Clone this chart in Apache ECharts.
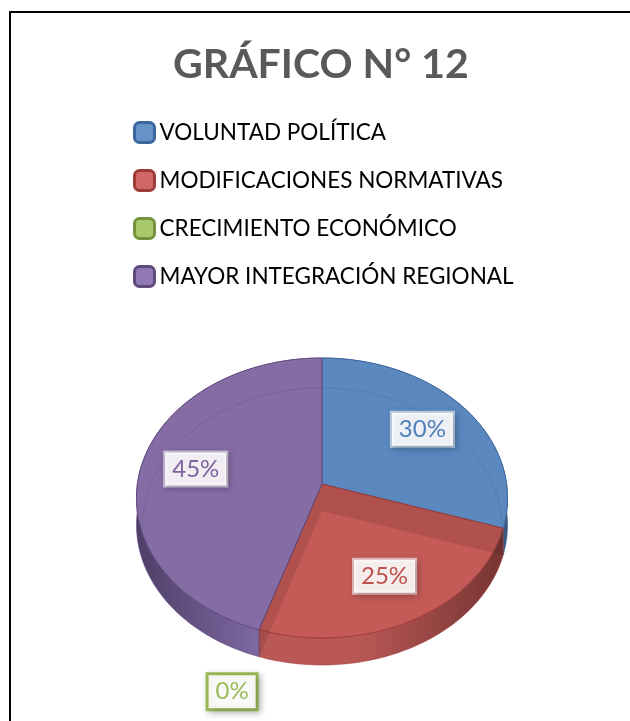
<!DOCTYPE html>
<html>
<head>
<meta charset="utf-8">
<script src="https://cdn.jsdelivr.net/npm/echarts@6/dist/echarts.min.js"></script>
<style>
  html, body { margin: 0; padding: 0; background: #fff; }
  #main { width: 630px; height: 721px; }
</style>
</head>
<body>
<div id="main"></div>
<script>
var categories = ['VOLUNTAD POLÍTICA', 'MODIFICACIONES NORMATIVAS', 'CRECIMIENTO ECONÓMICO', 'MAYOR INTEGRACIÓN REGIONAL'];
var values = [30, 25, 0, 45];
var valueLabels = ['30%', '25%', '0%', '45%'];

// top face / label text / legend border / legend fill / side dark / side mid
var topColors = ['#5a88bf', '#c55b57', '#9bbb59', '#866ca5'];
var textColors = ['#4f7fbd', '#c0504d', '#9bbb59', '#8064a2'];
var edgeColors = ['#3c679c', '#9e3b38', '#76923c', '#5f4a7e'];
var iconColors = ['#6592c9', '#d06966', '#a9c96d', '#9179b3'];
var sideDark = ['#2f4f78', '#6e2927', '#5a7030', '#45345f'];
var sideMid = ['#4f79ab', '#b54f4c', '#8aa94d', '#7a63a0'];

// pie geometry (slight perspective, like the excel 3d pie)
var CX = 322, CY = 484, RX = 184.6, RY = 138.6, PERSP = 0.1, DEPTH = 27;

var total = values.reduce(function (a, b) { return a + b; }, 0);

function pt(theta, r) {
  var u = Math.sin(theta) * r, v = -Math.cos(theta) * r;
  var s = 1 / (1 - PERSP * v);
  return [CX + RX * u * s, CY + RY * v * s];
}
function arc(t0, t1, r) {
  var pts = [], n = Math.max(2, Math.ceil((t1 - t0) / (Math.PI / 180)));
  for (var k = 0; k <= n; k++) {
    pts.push(pt(t0 + (t1 - t0) * k / n, r));
  }
  return pts;
}

function drawSlice(i, val) {
  var before = 0;
  for (var j = 0; j < i; j++) before += values[j];
  var t0 = before / total * Math.PI * 2;
  var t1 = t0 + val / total * Math.PI * 2;
  var children = [];

  if (val > 0) {
    var rim = arc(t0, t1, 1);
    var side = rim.concat(rim.slice().reverse().map(function (p) { return [p[0], p[1] + DEPTH]; }));
    children.push({
      type: 'polygon', z2: 1,
      shape: { points: side },
      style: {
        fill: new echarts.graphic.LinearGradient(CX - RX, 0, CX + RX, 0, [
          { offset: 0, color: sideDark[i] },
          { offset: 0.35, color: sideMid[i] },
          { offset: 0.6, color: sideMid[i] },
          { offset: 1, color: sideDark[i] }
        ], true),
        stroke: edgeColors[i], lineWidth: 0.6, opacity: 0.95
      }
    });
    children.push({
      type: 'polygon', z2: 5,
      shape: { points: [[CX, CY]].concat(rim) },
      style: { fill: topColors[i], stroke: edgeColors[i], lineWidth: 1 }
    });

    // inner walls seen through the top (only those that fall inside the slice)
    var walls = [];
    if (t0 > 0 && t0 < Math.PI) walls.push(t0);
    if (t1 > Math.PI && t1 < Math.PI * 2) walls.push(t1);
    walls.forEach(function (t) {
      var p = pt(t, 1);
      children.push({
        type: 'polygon', z2: 6,
        shape: { points: [[CX, CY], p, [p[0], p[1] + DEPTH], [CX, CY + DEPTH]] },
        style: { fill: 'rgba(0,0,0,0.1)' }
      });
    });

    // bottom edge of the back half, faint
    var b0 = t0, b1 = Math.min(t1, 100 * Math.PI / 180);
    var backs = [];
    if (b1 > b0) backs.push([b0, b1]);
    b0 = Math.max(t0, 260 * Math.PI / 180); b1 = t1;
    if (b1 > b0) backs.push([b0, b1]);
    backs.forEach(function (rg) {
      children.push({
        type: 'polyline', z2: 7,
        shape: { points: arc(rg[0], rg[1], 1).map(function (p) { return [CX + (p[0] - CX) * 0.97, p[1] + 30]; }) },
        style: { stroke: edgeColors[i], lineWidth: 1, opacity: 0.35, fill: null }
      });
    });
  }

  var lp = pt((t0 + t1) / 2, val > 0 ? 0.7 : 1.37);
  children.push({
    type: 'text', z2: 20,
    x: lp[0], y: lp[1],
    style: {
      text: valueLabels[i],
      font: '24px Lato',
      fill: textColors[i],
      align: 'center', verticalAlign: 'middle',
      backgroundColor: 'rgba(255,255,255,0.9)',
      borderColor: val > 0 ? 'rgba(255,255,255,0.6)' : textColors[i],
      borderWidth: val > 0 ? 2 : 3,
      padding: [5, 7, 4, 7],
      shadowColor: 'rgba(0,0,0,0.25)',
      shadowBlur: 6, shadowOffsetX: 2, shadowOffsetY: 2
    }
  });

  return { type: 'group', children: children };
}

var series = categories.map(function (name, i) {
  return {
    type: 'custom',
    name: name,
    coordinateSystem: 'none',
    silent: true,
    itemStyle: { color: topColors[i] },
    data: [values[i]],
    renderItem: function (params, api) {
      return drawSlice(i, api.value(0));
    }
  };
});

var chart = echarts.init(document.getElementById('main'));
chart.setOption({
  animation: false,
  title: {
    text: 'GRÁFICO N° 12',
    left: 168, top: 39,
    textStyle: { fontFamily: 'Lato', fontWeight: 'bold', fontSize: 41, color: '#595959' }
  },
  legend: {
    orient: 'vertical',
    left: 128, top: 116,
    itemWidth: 20, itemHeight: 20, itemGap: 25,
    selectedMode: false,
    textStyle: { fontFamily: 'Lato', fontSize: 22.5, color: '#000' },
    data: categories.map(function (name, i) {
      return {
        name: name, icon: 'roundRect',
        itemStyle: { color: iconColors[i], borderColor: edgeColors[i], borderWidth: 3 }
      };
    })
  },
  graphic: [{
    type: 'rect', z: -1,
    shape: { x: 10, y: 12, width: 700, height: 800 },
    style: { fill: null, stroke: '#000', lineWidth: 2 }
  }],
  series: series
});
</script>
</body>
</html>
